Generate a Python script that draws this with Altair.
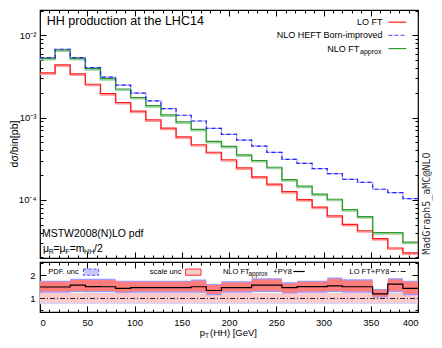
import altair as alt
import pandas as pd

# ---------------- data ----------------
bin_edges = list(range(0, 401, 16))  # 25 bins of 16 GeV

lo_ft = [3.50e-3, 4.38e-3, 3.40e-3, 2.55e-3, 1.96e-3, 1.53e-3, 1.20e-3, 9.40e-4,
         7.45e-4, 5.83e-4, 4.69e-4, 3.80e-4, 3.08e-4, 2.45e-4, 1.91e-4, 1.56e-4,
         1.26e-4, 1.01e-4, 8.17e-5, 6.40e-5, 5.05e-5, 4.23e-5, 3.40e-5, 2.61e-5, 2.28e-5]
nlo_heft_born = [5.37e-3, 6.79e-3, 5.37e-3, 4.06e-3, 3.11e-3, 2.48e-3, 1.99e-3, 1.60e-3,
                 1.29e-3, 1.07e-3, 9.12e-4, 7.40e-4, 6.27e-4, 5.35e-4, 4.52e-4, 3.79e-4,
                 3.12e-4, 2.79e-4, 2.40e-4, 2.09e-4, 1.78e-4, 1.64e-4, 1.35e-4, 1.23e-4, 1.04e-4]
nlo_ft_approx = [5.27e-3, 6.68e-3, 5.27e-3, 3.94e-3, 2.98e-3, 2.23e-3, 1.76e-3, 1.40e-3,
                 1.08e-3, 8.89e-4, 7.20e-4, 5.15e-4, 4.48e-4, 3.54e-4, 3.02e-4, 2.50e-4,
                 1.77e-4, 1.47e-4, 1.18e-4, 1.02e-4, 7.62e-5, 6.28e-5, 4.01e-5, 4.01e-5, 3.08e-5]

ratio_nlo_py8 = [1.49, 1.49, 1.57, 1.51, 1.50, 1.43, 1.46, 1.46, 1.46, 1.46, 1.50, 1.34, 1.46,
                 1.46, 1.57, 1.57, 1.46, 1.51, 1.51, 1.54, 1.50, 1.50, 1.20, 1.61, 1.43]
ratio_lo_py8 = [1.00, 1.00, 1.00, 1.00, 1.00, 1.00, 1.00, 1.00, 1.00, 1.00, 1.00, 1.00, 1.00,
                1.00, 1.00, 1.00, 1.00, 1.00, 1.00, 1.00, 1.00, 1.00, 1.00, 1.00, 1.00]
nlo_scale_hi = [1.71, 1.71, 1.79, 1.79, 1.79, 1.71, 1.71, 1.71, 1.71, 1.71, 1.76, 1.57, 1.68,
                1.68, 1.81, 1.81, 1.64, 1.71, 1.71, 1.84, 1.77, 1.77, 1.36, 1.81, 1.71]
nlo_scale_lo = [1.30, 1.30, 1.33, 1.32, 1.32, 1.28, 1.30, 1.30, 1.30, 1.30, 1.30, 1.19, 1.30,
                1.30, 1.33, 1.33, 1.26, 1.30, 1.30, 1.33, 1.30, 1.30, 1.09, 1.32, 1.19]
nlo_pdf_hi = [1.76, 1.76, 1.84, 1.84, 1.84, 1.76, 1.76, 1.76, 1.76, 1.76, 1.81, 1.62, 1.73,
              1.73, 1.86, 1.86, 1.69, 1.76, 1.76, 1.89, 1.82, 1.82, 1.41, 1.86, 1.76]
nlo_pdf_lo = [1.25, 1.25, 1.28, 1.27, 1.27, 1.23, 1.25, 1.25, 1.25, 1.25, 1.25, 1.14, 1.25,
              1.25, 1.28, 1.28, 1.21, 1.25, 1.25, 1.28, 1.25, 1.25, 1.04, 1.27, 1.14]
lo_scale_hi = [1.22, 1.22, 1.22, 1.22, 1.22, 1.22, 1.22, 1.22, 1.22, 1.22, 1.22, 1.22, 1.22,
               1.22, 1.22, 1.22, 1.22, 1.22, 1.22, 1.22, 1.22, 1.22, 1.22, 1.22, 1.22]
lo_scale_lo = [0.82, 0.82, 0.82, 0.82, 0.82, 0.82, 0.82, 0.82, 0.82, 0.82, 0.82, 0.82, 0.82,
               0.82, 0.82, 0.82, 0.82, 0.82, 0.82, 0.82, 0.82, 0.82, 0.82, 0.82, 0.82]
lo_pdf_hi = [1.25, 1.25, 1.25, 1.25, 1.25, 1.25, 1.25, 1.25, 1.25, 1.25, 1.25, 1.25, 1.25,
             1.25, 1.25, 1.25, 1.25, 1.25, 1.25, 1.25, 1.25, 1.25, 1.25, 1.25, 1.25]
lo_pdf_lo = [0.76, 0.76, 0.76, 0.76, 0.76, 0.76, 0.76, 0.76, 0.76, 0.76, 0.76, 0.76, 0.76,
             0.76, 0.76, 0.76, 0.76, 0.76, 0.76, 0.76, 0.76, 0.76, 0.76, 0.76, 0.76]

x_tick_labels = [0, 50, 100, 150, 200, 250, 300, 350, 400]
y_top_decades = [1e-4, 1e-3, 1e-2]
y_bot_labels = [1, 2]

title_text = "HH production at the LHC14"
legend_top = ["LO FT", "NLO HEFT Born-improved", "NLO FT"]
legend_bot = ["PDF. unc", "scale unc", "NLO FT", "+PY8", "LO FT+PY8"]
pdf_text = "MSTW2008(N)LO pdf"
generator_text = "MadGraph5_aMC@NLO"


def steps(vals):
    return vals + [vals[-1]]


top_df = pd.DataFrame({"pt": bin_edges, "lo": steps(lo_ft), "heft": steps(nlo_heft_born),
                       "ft": steps(nlo_ft_approx)})
bot_df = pd.DataFrame({"pt": bin_edges, "nlo": steps(ratio_nlo_py8), "lo": steps(ratio_lo_py8),
                       "nsh": steps(nlo_scale_hi), "nsl": steps(nlo_scale_lo),
                       "nph": steps(nlo_pdf_hi), "npl": steps(nlo_pdf_lo),
                       "lsh": steps(lo_scale_hi), "lsl": steps(lo_scale_lo),
                       "lph": steps(lo_pdf_hi), "lpl": steps(lo_pdf_lo)})

# ---------------- layout / style ----------------
W, H1, H2 = 378, 248, 50
SX = W / 388.0
SY1 = H1 / 263.7
SY2 = H2 / 51.8
FONT = "Liberation Sans"


def tx(px):  # reference page x -> panel x
    return round((px - 40) * SX, 1)


def ty(py):  # reference page y -> top panel y
    return round((py - 1) * SY1, 1)


def by(py):  # reference page y -> ratio panel y
    return round((py - 264.7) * SY2, 1)


xs = alt.Scale(domain=[0, 400], nice=False, zero=False)
ys_top = alt.Scale(type="log", domain=[1.972e-5, 2.035e-2], nice=False)
ys_bot = alt.Scale(domain=[0.424, 2.556], nice=False, zero=False)

x_ticks = list(range(0, 401, 10))
y_top_ticks = [m * 10.0 ** e for e in (-5, -4, -3) for m in range(1, 10)
               if 1.972e-5 <= m * 10.0 ** e <= 2.035e-2] + [1e-2, 2e-2]
y_bot_ticks = [0.5, 1.0, 1.5, 2.0, 2.5]

T_X = "datum.value % 50 === 0"
T_LOG = "abs(log(datum.value)/LN10 - round(log(datum.value)/LN10)) < 0.001"
T_BOT = "abs(datum.value - round(datum.value)) < 0.001"


def tick_axis(orient, offset, values, test):
    return alt.Axis(orient=orient, offset=offset, values=values, labels=False, domain=False,
                    grid=False, title=None, ticks=True, tickColor="black", tickWidth=1,
                    tickSize={"condition": {"test": test, "value": 6}, "value": 3})


def txt(s, x, y, size, align="left", baseline="middle", color="black", font=FONT, angle=0):
    kw = dict(align=align, baseline=baseline, fontSize=size, font=font, color=color)
    if angle:
        kw["angle"] = angle
    return alt.Chart().mark_text(**kw).encode(x=alt.value(x), y=alt.value(y), text=alt.value(s))


def hline(x1, x2, y, color, width=1.2, dash=None):
    kw = dict(color=color, strokeWidth=width)
    if dash:
        kw["strokeDash"] = dash
    return alt.Chart().mark_rule(**kw).encode(x=alt.value(x1), x2=alt.value(x2), y=alt.value(y))


def step_line(df, field, ys, color, width, xaxis, yaxis, dash=None, yoff=0):
    kw = dict(interpolate="step-after", color=color, strokeWidth=width, clip=True)
    if dash:
        kw["strokeDash"] = dash
    if yoff:
        kw["yOffset"] = yoff
    return alt.Chart(df).mark_line(**kw).encode(
        x=alt.X("pt:Q", scale=xs, axis=xaxis),
        y=alt.Y(f"{field}:Q", scale=ys, axis=yaxis))


# ---------------- top panel ----------------
y_label_axis = alt.Axis(orient="left", values=y_top_decades, ticks=False, domain=False, grid=False,
                        labelExpr="datum.value < 0.0005 ? '10⁻⁴' : datum.value < 0.005 ? '10⁻³' : '10⁻²'",
                        labelFont=FONT, labelFontSize=9.5, labelPadding=4, labelColor="black",
                        title="dσ/bin[pb]", titleFont=FONT, titleFontSize=10.5,
                        titleFontWeight="normal", titleColor="black", titleX=-21,
                        titleY=ty(143))

top_layers = [
    step_line(top_df, "lo", ys_top, "#ff9a9a", 1.6, tick_axis("top", -H1, x_ticks, T_X),
              y_label_axis, yoff=1.3),
    step_line(top_df, "ft", ys_top, "#9fd09f", 1.6, tick_axis("bottom", -H1, x_ticks, T_X),
              tick_axis("right", -W, y_top_ticks, T_LOG), yoff=1.3),
    step_line(top_df, "heft", ys_top, "#a8a8ff", 1.2, None,
              tick_axis("left", -W, y_top_ticks, T_LOG)),
    step_line(top_df, "lo", ys_top, "#ff1a1a", 1.2, None, None),
    step_line(top_df, "ft", ys_top, "#2e9a2e", 1.2, None, None),
    step_line(top_df, "heft", ys_top, "#2424ff", 1.2, None, None, dash=[4, 3]),
    txt(title_text, tx(47), ty(17), 12.5, baseline="alphabetic"),
    txt(legend_top[0], tx(391.7), ty(14), 9, align="right"),
    hline(tx(397.7), tx(416), ty(14), "#ff1a1a"),
    txt(legend_top[1], tx(391.7), ty(28), 9, align="right"),
    hline(tx(397.7), tx(416), ty(28), "#6a6aff", dash=[4, 2]),
    txt(legend_top[2], tx(367.7), ty(42), 9, align="right"),
    txt("approx", tx(368.5), ty(45.5), 7),
    hline(tx(397.7), tx(416), ty(42), "#2e9a2e"),
    txt(pdf_text, tx(42), ty(242), 10.5, baseline="alphabetic"),
    txt("μ", tx(43), ty(258), 10.5, baseline="alphabetic"),
    txt("R", tx(49), ty(260.5), 7, baseline="alphabetic"),
    txt("=", tx(54), ty(258), 10.5, baseline="alphabetic"),
    txt("μ", tx(60), ty(258), 10.5, baseline="alphabetic"),
    txt("F", tx(66), ty(260.5), 7, baseline="alphabetic"),
    txt("=", tx(70.5), ty(258), 10.5, baseline="alphabetic"),
    txt("m", tx(76.6), ty(258), 10.5, baseline="alphabetic"),
    txt("HH", tx(85.3), ty(260.5), 7, baseline="alphabetic"),
    txt("/2", tx(95.4), ty(258), 10.5, baseline="alphabetic"),
    txt(generator_text, tx(437), ty(207), 10, align="center", color="#333333",
        font="DejaVu Sans Mono", angle=270),
]
top = alt.layer(*top_layers).resolve_axis(x="independent", y="independent").properties(
    width=W, height=H1)

# ---------------- ratio panel ----------------
x_label_axis = alt.Axis(orient="bottom", values=x_tick_labels, ticks=False, domain=False, grid=False,
                        labelFont=FONT, labelFontSize=9.5, labelPadding=5, labelColor="black",
                        format="d", title=None)
yb_label_axis = alt.Axis(orient="left", values=y_bot_labels, ticks=False, domain=False, grid=False,
                         labelFont=FONT, labelFontSize=9.5, labelPadding=5, labelColor="black",
                         format="d", title=None)


def band(hi, lo, color, xaxis, yaxis):
    return alt.Chart(bot_df).mark_area(interpolate="step-after", color=color, opacity=1,
                                       clip=True).encode(
        x=alt.X("pt:Q", scale=xs, axis=xaxis),
        y=alt.Y(f"{hi}:Q", scale=ys_bot, axis=yaxis),
        y2=alt.Y2(f"{lo}:Q"))


ROW = by(274.5)
bot_layers = [
    band("lph", "lpl", "#d6d6ff", x_label_axis, yb_label_axis),
    band("lsh", "lsl", "#ffcaca", tick_axis("top", -H2, x_ticks, T_X),
         tick_axis("right", -W, y_bot_ticks, T_BOT)),
    band("nph", "npl", "#9c9cff", tick_axis("bottom", -H2, x_ticks, T_X),
         tick_axis("left", -W, y_bot_ticks, T_BOT)),
    band("nsh", "nsl", "#ff7c7c", None, None),
    step_line(bot_df, "lo", ys_bot, "#222222", 1, None, None, dash=[5, 2, 1, 2]),
    step_line(bot_df, "nlo", ys_bot, "black", 1.2, None, None),
    # legend
    txt(legend_bot[0], tx(48.5), ROW, 7.5),
    alt.Chart().mark_rect(fill="#c8c8ff", stroke="#5050ff", strokeDash=[3, 2],
                          strokeWidth=1).encode(
        x=alt.value(tx(84.7)), x2=alt.value(tx(100.3)), y=alt.value(by(272)),
        y2=alt.value(by(278.5))),
    txt(legend_bot[1], tx(152.7), ROW, 7.5),
    alt.Chart().mark_rect(fill="#ffcaca", stroke="#ff3030", strokeWidth=1).encode(
        x=alt.value(tx(189.3)), x2=alt.value(tx(205.3)), y=alt.value(by(272)),
        y2=alt.value(by(278.5))),
    txt(legend_bot[2], tx(227.7), ROW, 7.5),
    txt("approx", tx(254), ROW + 2.5, 6.3),
    txt(legend_bot[3], tx(279.5), ROW, 7.5),
    hline(tx(300), tx(311.7), ROW, "black"),
    txt(legend_bot[4], tx(357.7), ROW, 7.5),
    hline(tx(400), tx(417), ROW, "#222222", width=1, dash=[5, 2, 1, 2]),
    # x title p_T(HH) [GeV]
    txt("p", tx(204), by(341), 9.5, baseline="alphabetic"),
    txt("T", tx(209.5), by(343.5), 6.5, baseline="alphabetic"),
    txt("(HH) [GeV]", tx(214.5), by(341), 9.5, baseline="alphabetic"),
]
bottom = alt.layer(*bot_layers).resolve_axis(x="independent", y="independent").properties(
    width=W, height=H2)

chart = alt.vconcat(top, bottom, spacing=0).properties(
    padding={"left": 0, "top": 0, "right": 0, "bottom": 0}
).configure_view(stroke="black", strokeWidth=1.2).configure_axis(grid=False)

chart.save("out.html", embed_options={"renderer": "svg", "actions": False})
